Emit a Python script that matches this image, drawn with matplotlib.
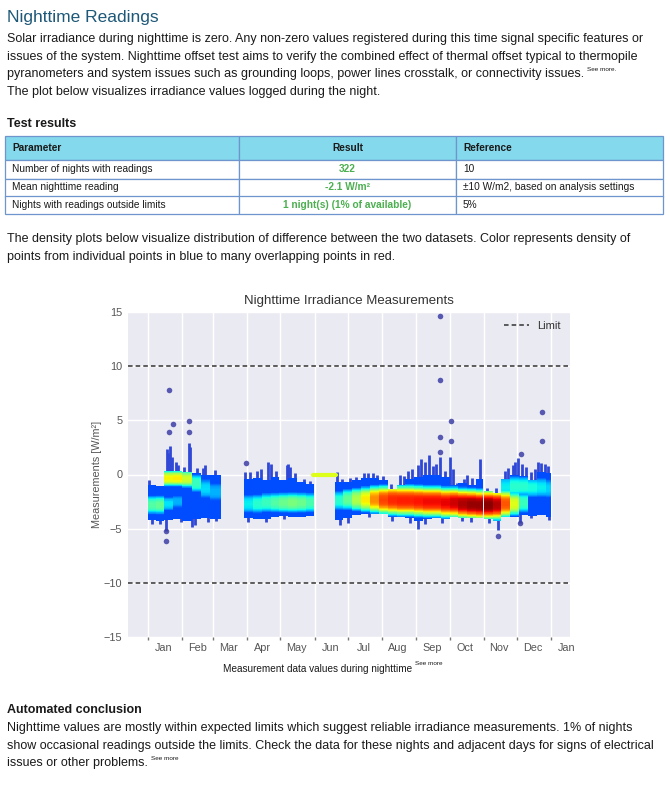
# nighttime readings report page: text, table and density chart

import numpy as np
import pandas as pd
import matplotlib
matplotlib.use("Agg")
import matplotlib.pyplot as plt
import matplotlib.dates as mdates
from matplotlib.patches import Rectangle
from matplotlib.ticker import FixedLocator, FixedFormatter, NullFormatter

nan = np.nan

# ---- report text ----
page_title = "Nighttime Readings"
intro_lines = [
    "Solar irradiance during nighttime is zero. Any non-zero values registered during this time signal specific features or",
    "issues of the system. Nighttime offset test aims to verify the combined effect of thermal offset typical to thermopile",
    "pyranometers and system issues such as grounding loops, power lines crosstalk, or connectivity issues.",
    "The plot below visualizes irradiance values logged during the night.",
]
density_lines = [
    "The density plots below visualize distribution of difference between the two datasets. Color represents density of",
    "points from individual points in blue to many overlapping points in red.",
]
conclusion_lines = [
    "Nighttime values are mostly within expected limits which suggest reliable irradiance measurements. 1% of nights",
    "show occasional readings outside the limits. Check the data for these nights and adjacent days for signs of electrical",
    "issues or other problems.",
]

# ---- test results table ----
table_header = ["Parameter", "Result", "Reference"]
table_params = ["Number of nights with readings", "Mean nighttime reading",
                "Nights with readings outside limits"]
table_results = ["322", "-2.1 W/m\u00b2", "1 night(s) (1% of available)"]
table_refs = ["10", "\u00b110 W/m2, based on analysis settings", "5%"]

# ---- chart data ----
# periods of nights; nan = no readings in that period
period_edges = [
    "2022-01-01", "2022-01-08", "2022-01-16", "2022-01-24", "2022-02-01", "2022-02-10",
    "2022-02-18", "2022-02-26", "2022-03-08", "2022-03-29", "2022-04-06", "2022-04-14",
    "2022-04-22", "2022-04-30", "2022-05-08", "2022-05-16", "2022-05-24", "2022-05-31",
    "2022-06-19", "2022-06-27", "2022-07-05", "2022-07-13", "2022-07-21", "2022-07-29",
    "2022-08-06", "2022-08-14", "2022-08-22", "2022-08-30", "2022-09-07", "2022-09-15",
    "2022-09-23", "2022-10-01", "2022-10-09", "2022-10-17", "2022-10-25", "2022-10-31",
    "2022-11-01", "2022-11-09", "2022-11-17", "2022-11-25", "2022-12-03", "2022-12-11",
    "2022-12-19", "2022-12-27", "2023-01-01",
]
band_low = [-4.2, -4.3, -4.2, -4.1, -4.3, -4.1, -4.0, -4.1, nan,
            -4.0, -4.1, -4.1, -3.9, -3.8, -3.9, -3.9, -3.8, nan,
            -4.2, -4.0, -3.7, -3.6, -3.6, -3.6, -3.9, -3.9, -4.0, -4.3, -4.1,
            -4.0, -4.1, -3.9, -4.0, -4.0, -4.0, nan,
            -4.1, -4.3, -3.9, -3.9, -3.7, -3.8, -3.7, -3.9]
band_high = [-1.0, -1.1, 0.3, 0.3, 0.2, 0.1, 0.0, 0.0, nan,
             -0.4, -0.3, -0.5, -0.2, -0.5, -0.3, -0.7, -0.9, nan,
             -0.7, -0.7, -0.5, -0.3, -0.3, -0.5, -1.3, -1.0, -0.4, -0.2, 0.0,
             0.0, -0.2, -1.0, -0.8, -1.0, -0.4, nan,
             -1.5, -1.7, -0.4, 0.0, -0.1, -0.5, 0.2, 0.1]
density_center = [-2.8, -2.8, -0.35, -0.35, -0.4, -0.8, -1.3, -1.6, nan,
                  -2.7, -2.7, -2.6, -2.6, -2.6, -2.6, -2.6, -2.6, nan,
                  -2.4, -2.3, -2.3, -2.3, -2.3, -2.35, -2.35, -2.4, -2.4, -2.45, -2.5,
                  -2.5, -2.6, -2.6, -2.7, -2.75, -2.8, nan,
                  -2.8, -2.8, -2.7, -2.7, -2.6, -1.2, -1.2, -1.3]
density_peak = [0.45, 0.47, 0.65, 0.66, 0.6, 0.42, 0.34, 0.3, nan,
                0.36, 0.4, 0.42, 0.45, 0.48, 0.5, 0.48, 0.44, nan,
                0.4, 0.47, 0.56, 0.66, 0.76, 0.84, 0.87, 0.88, 0.88, 0.89, 0.9,
                0.9, 0.91, 0.93, 0.96, 0.98, 0.98, nan,
                0.99, 0.95, 0.82, 0.62, 0.42, 0.38, 0.36, 0.33]
density_spread = [0.75, 0.75, 0.6, 0.6, 0.65, 0.75, 0.85, 0.85, nan,
                  0.8, 0.8, 0.8, 0.8, 0.8, 0.8, 0.8, 0.8, nan,
                  0.8, 0.85, 0.9, 0.95, 1.0, 1.05, 1.1, 1.1, 1.1, 1.1, 1.1,
                  1.1, 1.1, 1.1, 1.1, 1.1, 1.1, nan,
                  1.1, 1.1, 1.0, 0.9, 0.85, 0.85, 0.85, 0.85]
second_center = [nan, nan, -2.7, -2.5, nan, nan, nan, nan, nan,
                 nan, nan, nan, nan, nan, nan, nan, nan, nan,
                 nan, nan, nan, nan, nan, nan, nan, nan, nan, nan, nan,
                 nan, nan, nan, nan, nan, nan, nan,
                 nan, nan, -1.2, -1.1, -1.1, nan, nan, nan]
second_peak = [nan, nan, 0.35, 0.3, nan, nan, nan, nan, nan,
               nan, nan, nan, nan, nan, nan, nan, nan, nan,
               nan, nan, nan, nan, nan, nan, nan, nan, nan, nan, nan,
               nan, nan, nan, nan, nan, nan, nan,
               nan, nan, 0.36, 0.4, 0.4, nan, nan, nan]

# single nights reaching above / below the band
spike_dates = ["2022-01-02", "2022-01-18", "2022-01-19", "2022-01-21", "2022-01-23",
               "2022-01-26", "2022-01-28", "2022-02-03", "2022-02-07", "2022-02-08",
               "2022-02-14", "2022-02-20", "2022-02-22", "2022-03-03",
               "2022-03-30", "2022-04-03", "2022-04-10", "2022-04-13", "2022-04-20",
               "2022-04-22", "2022-04-27", "2022-05-07", "2022-05-08", "2022-05-10",
               "2022-05-14", "2022-05-22", "2022-05-28",
               "2022-06-21", "2022-06-26", "2022-07-03", "2022-07-08", "2022-07-16",
               "2022-07-19", "2022-07-24", "2022-07-27", "2022-08-02", "2022-08-09",
               "2022-08-17", "2022-08-21", "2022-08-24", "2022-08-28", "2022-09-02",
               "2022-09-05", "2022-09-09", "2022-09-12", "2022-09-16", "2022-09-19",
               "2022-09-22", "2022-09-27", "2022-10-01", "2022-10-04", "2022-10-08",
               "2022-10-14", "2022-10-17", "2022-10-21", "2022-10-29", "2022-11-04",
               "2022-11-12", "2022-11-20", "2022-11-23", "2022-11-27", "2022-11-29",
               "2022-12-02", "2022-12-06", "2022-12-09", "2022-12-14", "2022-12-17",
               "2022-12-20", "2022-12-23", "2022-12-26", "2022-12-29"]
spike_tops = [-0.5, 2.4, 2.0, 2.6, 1.6, 1.2, 0.9, 0.7, 2.9, 2.5, 0.6, 0.6, 0.9, 0.4,
              0.2, 0.2, 0.3, 0.5, 1.2, 1.0, 0.3, 0.9, 1.0, 0.7, 0.1, -0.4, -0.6,
              0.2, -0.4, -0.3, -0.2, 0.1, 0.1, 0.1, 0.0, -0.1, -0.9, 0.0, -0.1, 0.3,
              0.5, 0.9, 1.4, 1.2, 1.8, 0.8, 1.0, 1.6, 0.3, 1.6, 0.5, -0.8, -0.4, 0.0,
              -0.3, 1.4, -1.2, -1.2, 0.3, 0.6, 0.9, 1.2, 1.5, 1.0, 0.7, 0.2, 0.5,
              1.2, 1.1, 1.0, 0.8]
dip_dates = ["2022-01-05", "2022-01-12", "2022-01-17", "2022-01-31", "2022-02-10",
             "2022-02-13", "2022-02-24", "2022-03-04", "2022-04-02", "2022-04-18",
             "2022-05-04", "2022-06-24", "2022-07-01", "2022-07-20", "2022-08-10",
             "2022-08-26", "2022-09-02", "2022-09-09", "2022-09-24", "2022-10-12",
             "2022-10-20", "2022-11-06", "2022-11-14", "2022-12-04", "2022-12-14",
             "2022-12-30"]
dip_bottoms = [-4.6, -4.6, -5.2, -4.4, -4.8, -4.7, -4.4, -4.3, -4.4, -4.4,
               -4.1, -4.7, -4.5, -3.9, -4.3, -4.5, -5.0, -4.6, -4.5, -4.3,
               -4.4, -4.5, -5.1, -4.5, -4.0, -4.2]

# isolated readings
outlier_dates = ["2022-01-17", "2022-01-17", "2022-01-20", "2022-01-20", "2022-01-24",
                 "2022-02-07", "2022-02-07", "2022-03-31", "2022-09-22", "2022-09-22",
                 "2022-09-22", "2022-09-22", "2022-10-02", "2022-10-02", "2022-11-14",
                 "2022-12-04", "2022-12-05", "2022-12-24", "2022-12-24"]
outlier_values = [-5.25, -6.15, 7.8, 3.9, 4.7, 4.9, 3.9, 1.1, 14.6, 8.7,
                  3.5, 2.1, 4.9, 3.1, -5.65, -4.5, 1.85, 5.8, 3.1]

# stuck sensor period at zero
flat_dates = ["2022-05-30", "2022-06-20"]
flat_value = 0.0

limit = 10
month_labels = ["Jan", "Feb", "Mar", "Apr", "May", "Jun", "Jul", "Aug", "Sep",
                "Oct", "Nov", "Dec", "Jan"]
month_mid = ["2022-01-15", "2022-02-15", "2022-03-15", "2022-04-15", "2022-05-15",
             "2022-06-15", "2022-07-15", "2022-08-15", "2022-09-15", "2022-10-15",
             "2022-11-15", "2022-12-15", "2023-01-15"]

# ---- colours ----
title_col = "#1d5878"
text_col = "#1a1a1a"
header_bg = "#84d9ec"
border_col = "#6f95cf"
green = "#4caf50"
spike_col = "#2f48d6"


def num(dates):
    return mdates.date2num(pd.to_datetime(dates).to_numpy())


plt.rcParams["font.family"] = ["Liberation Sans", "DejaVu Sans"]

W, H = 670, 791
fig = plt.figure(figsize=(W / 100, H / 100), dpi=100)


def fx(px):
    return px / W


def fy(py):
    return 1 - py / H


def put(x, y, s, size=9, **kw):
    kw.setdefault("color", text_col)
    return fig.text(fx(x), fy(y), s, fontsize=size, va="baseline", **kw)


renderer = fig.canvas.get_renderer()


def see_more(t, label="See more."):
    bb = t.get_window_extent(renderer=renderer)
    fig.text((bb.x1 + 3) / W, (bb.y0 + 9) / H, label, fontsize=4.6,
             color=text_col, va="baseline")


# ---- top text ----
put(7, 22, page_title, size=12.5, color=title_col)
for i, line in enumerate(intro_lines):
    t = put(7, 42 + 17.7 * i, line)
    if i == 2:
        see_more(t)

put(7, 127, "Test results", weight="bold")

# ---- table ----
col_x = [5, 239, 456, 663]
row_y = [136, 160, 178.5, 196.5, 214]
rows = [table_header] + [list(r) for r in zip(table_params, table_results, table_refs)]
for r in range(4):
    for c in range(3):
        fig.add_artist(Rectangle((fx(col_x[c]), fy(row_y[r + 1])),
                                 (col_x[c + 1] - col_x[c]) / W,
                                 (row_y[r + 1] - row_y[r]) / H,
                                 transform=fig.transFigure,
                                 facecolor=header_bg if r == 0 else "white",
                                 edgecolor=border_col, linewidth=0.9))
        base = (row_y[r] + row_y[r + 1]) / 2 + 3
        s = rows[r][c]
        if c == 1:
            put((col_x[1] + col_x[2]) / 2, base, s, size=7.3, ha="center",
                weight="bold", color=text_col if r == 0 else green)
        else:
            put(col_x[c] + 7, base, s, size=7.3,
                weight="bold" if r == 0 else "normal")

for i, line in enumerate(density_lines):
    put(7, 242 + 18 * i, line)

# ---- chart ----
ax = fig.add_axes([fx(128), fy(637), (570 - 128) / W, (637 - 312) / H])
ax.set_facecolor("#eaeaf2")
for sp in ax.spines.values():
    sp.set_visible(False)
ax.grid(True, color="white", linewidth=1.0)
ax.set_axisbelow(True)

edges = num(period_edges)
y_edges = np.arange(-6.0, 3.01, 0.05)
y_mid = (y_edges[:-1] + y_edges[1:]) / 2
Z = np.full((len(y_mid), len(band_low)), np.nan)
for i in range(len(band_low)):
    if np.isnan(band_low[i]):
        continue
    d = np.abs(y_mid - density_center[i]) / density_spread[i]
    level = density_peak[i] * np.exp(-0.5 * d ** 3)
    if not np.isnan(second_center[i]):
        d2 = np.abs(y_mid - second_center[i]) / density_spread[i]
        level = np.maximum(level, second_peak[i] * np.exp(-0.5 * d2 ** 3))
    level = np.maximum(level, 0.2)
    level[(y_mid < band_low[i]) | (y_mid > band_high[i])] = np.nan
    Z[:, i] = level

ax.vlines(num(spike_dates), -2, spike_tops, color=spike_col, linewidth=2.0, zorder=2)
ax.vlines(num(dip_dates), -2, dip_bottoms, color=spike_col, linewidth=2.0, zorder=2)
ax.pcolormesh(edges, y_edges, np.ma.masked_invalid(Z), cmap="jet", vmin=0, vmax=1,
              shading="flat", zorder=3)
ax.plot(num(flat_dates), [flat_value, flat_value], color=plt.cm.jet(0.62),
        linewidth=3, solid_capstyle="round", zorder=4)
ax.scatter(num(outlier_dates), outlier_values, s=16, color="#3d3fa6", alpha=0.85,
           linewidths=0, zorder=5)

ax.axhline(limit, color="#333333", linestyle=(0, (3, 2)), linewidth=1.1, label="Limit", zorder=4)
ax.axhline(-limit, color="#333333", linestyle=(0, (3, 2)), linewidth=1.1, zorder=4)

ax.set_ylim(-15, 15)
ax.set_yticks([-15, -10, -5, 0, 5, 10, 15])
ax.set_xlim(num(["2021-12-14"])[0], num(["2023-01-18"])[0])
ax.xaxis.set_major_locator(mdates.MonthLocator())
ax.xaxis.set_major_formatter(NullFormatter())
ax.xaxis.set_minor_locator(FixedLocator(num(month_mid)))
ax.xaxis.set_minor_formatter(FixedFormatter(month_labels))
ax.tick_params(axis="x", which="major", length=2, width=1, color="#777777")
ax.tick_params(axis="x", which="minor", length=0, pad=4, labelsize=7.8,
               labelcolor="#555555")
ax.tick_params(axis="y", length=0, pad=4, labelsize=7.8, labelcolor="#555555")
ax.grid(False, which="minor")

ax.set_title("Nighttime Irradiance Measurements", fontsize=9.5, color="#333333", pad=6)
ax.set_ylabel("Measurements [W/m\u00b2]", fontsize=7.8, color="#555555")
ax.yaxis.set_label_coords(-26 / 442, 0.5)
ax.legend(loc="upper right", frameon=False, fontsize=8, labelcolor="#333333",
          handlelength=2.2, borderaxespad=0.4)

cap = put(223, 672, "Measurement data values during nighttime", size=7.2)
see_more(cap, "See more")

# ---- conclusion ----
put(7, 713, "Automated conclusion", weight="bold")
for i, line in enumerate(conclusion_lines):
    t = put(7, 731 + 17.7 * i, line)
    if i == 2:
        see_more(t, "See more")

fig.savefig("out.png", dpi=100)
